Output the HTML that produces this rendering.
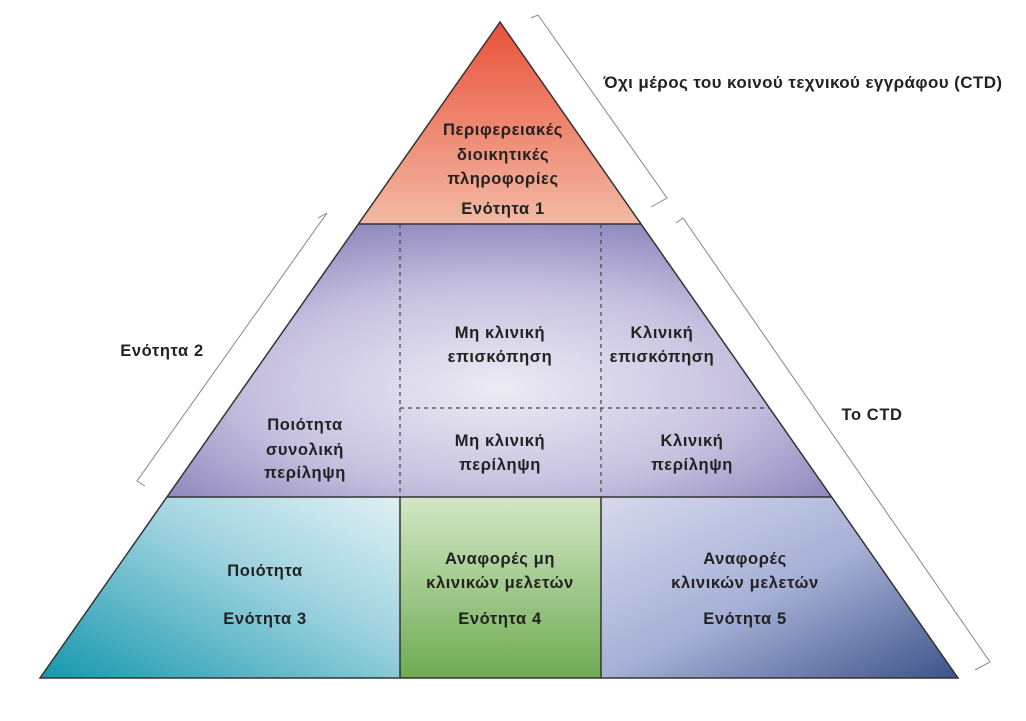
<!DOCTYPE html>
<html><head><meta charset="utf-8"><style>
html,body{margin:0;padding:0;background:#fff;}
svg text{font-family:"Liberation Sans","DejaVu Sans",sans-serif;font-weight:bold;fill:#222;font-size:16.5px;letter-spacing:0.6px;text-anchor:middle;}
</style></head><body>
<svg width="1026" height="716" viewBox="0 0 1026 716" xmlns="http://www.w3.org/2000/svg">
<defs>
<linearGradient id="g1" x1="0" y1="0" x2="0" y2="1"><stop offset="0" stop-color="#e9513a"/><stop offset="1" stop-color="#f3b9a3"/></linearGradient>
<radialGradient id="g2" cx="0.5" cy="0.6" r="0.62"><stop offset="0" stop-color="#ecebf4"/><stop offset="0.6" stop-color="#c6c0df"/><stop offset="1" stop-color="#928bc0"/></radialGradient>
<linearGradient id="g3" x1="0" y1="1" x2="1" y2="0"><stop offset="0" stop-color="#1597ad"/><stop offset="0.6" stop-color="#9fd3df"/><stop offset="1" stop-color="#dff0f4"/></linearGradient>
<linearGradient id="g4" x1="0" y1="0" x2="0" y2="1"><stop offset="0" stop-color="#d3e7c6"/><stop offset="1" stop-color="#6eab52"/></linearGradient>
<linearGradient id="g5" x1="0" y1="0" x2="1" y2="1"><stop offset="0" stop-color="#d6d9ec"/><stop offset="0.5" stop-color="#a6b0d6"/><stop offset="1" stop-color="#3d5389"/></linearGradient>
</defs>
<polygon points="500,22 359,224 641,224" fill="url(#g1)"/>
<polygon points="359,224 641,224 832,497 167,497" fill="url(#g2)"/>
<polygon points="167,497 400,497 400,678 40,678" fill="url(#g3)"/>
<rect x="400" y="497" width="201" height="181" fill="url(#g4)"/>
<polygon points="601,497 832,497 958,678 601,678" fill="url(#g5)"/>
<g stroke="#333" stroke-width="1.5" fill="none">
<polygon points="500,22 958,678 40,678"/>
<line x1="359" y1="224" x2="641" y2="224"/>
<line x1="167" y1="497" x2="832" y2="497"/>
<line x1="400" y1="497" x2="400" y2="678"/>
<line x1="601" y1="497" x2="601" y2="678"/>
</g>
<g stroke="#444" stroke-width="1.2" stroke-dasharray="4,4" fill="none">
<line x1="400" y1="224" x2="400" y2="497"/>
<line x1="601" y1="224" x2="601" y2="497"/>
<line x1="400" y1="408" x2="770" y2="408"/>
</g>
<g stroke="#888" stroke-width="1" fill="none">
<polyline points="531,18 538,15 667,198 651,207"/>
<polyline points="676,223 683,218 990,662 975,670"/>
<polyline points="318,218 327,213 137,481 145,486"/>
</g>
<text x="503" y="135">Περιφερειακές</text>
<text x="503" y="160">διοικητικές</text>
<text x="503" y="184">πληροφορίες</text>
<text x="503" y="214">Ενότητα 1</text>
<text x="500" y="338">Μη κλινική</text>
<text x="500" y="362">επισκόπηση</text>
<text x="662" y="338">Κλινική</text>
<text x="662" y="362">επισκόπηση</text>
<text x="500" y="446">Μη κλινική</text>
<text x="500" y="470">περίληψη</text>
<text x="692" y="446">Κλινική</text>
<text x="692" y="470">περίληψη</text>
<text x="305" y="430">Ποιότητα</text>
<text x="305" y="455">συνολική</text>
<text x="305" y="478">περίληψη</text>
<text x="265" y="576">Ποιότητα</text>
<text x="265" y="624">Ενότητα 3</text>
<text x="500" y="564">Αναφορές μη</text>
<text x="500" y="588">κλινικών μελετών</text>
<text x="500" y="624">Ενότητα 4</text>
<text x="745" y="564">Αναφορές</text>
<text x="745" y="588">κλινικών μελετών</text>
<text x="745" y="624">Ενότητα 5</text>
<text x="162" y="356">Ενότητα 2</text>
<text x="872" y="420">Το CTD</text>
<text x="803" y="88" style="font-size:17px;letter-spacing:0.4px">Όχι μέρος του  κοινού τεχνικού εγγράφου (CTD)</text>
</svg>
</body></html>
